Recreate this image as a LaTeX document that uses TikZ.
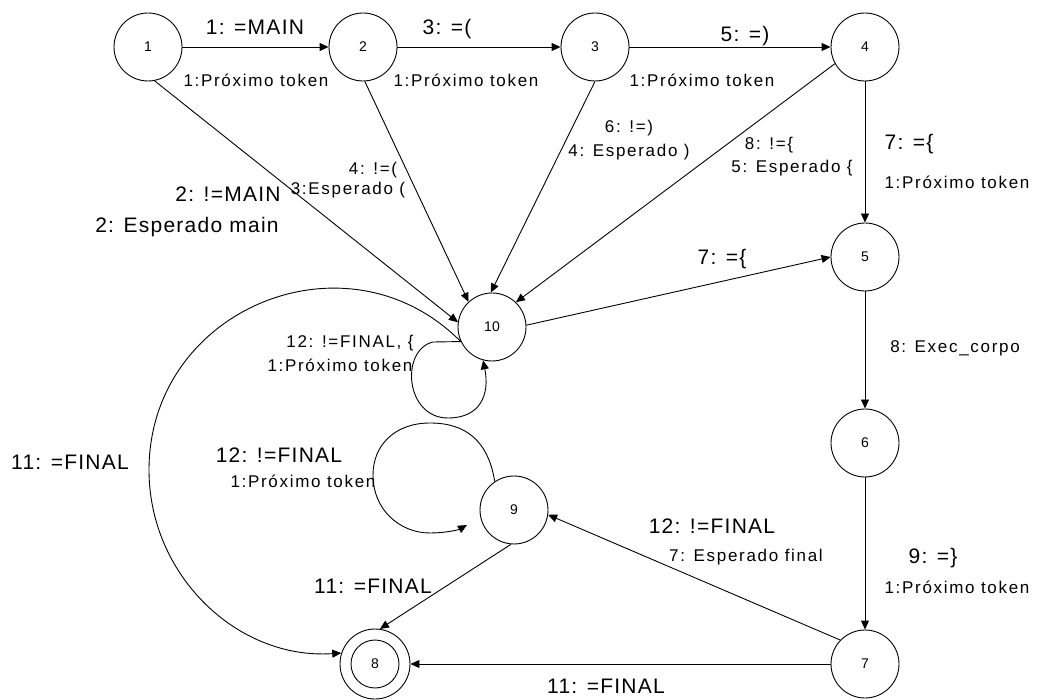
\documentclass[tikz,border=0pt]{standalone}
\usepackage{fontspec}
\setmainfont{Liberation Sans}
\newfontfamily\lblfont[LetterSpace=6]{Liberation Sans}
\newfontfamily\tokfont[LetterSpace=10]{Liberation Sans}
\usetikzlibrary{arrows.meta}

\begin{document}
\begin{tikzpicture}[x=1pt,y=-1pt,
  st/.style={circle,draw,line width=0.9pt,minimum size=68pt,inner sep=0pt,
             font=\fontsize{14}{16}\selectfont},
  big/.style={inner sep=0pt,anchor=base,font=\lblfont\fontsize{21}{24}\selectfont},
  sml/.style={inner sep=0pt,anchor=base,font=\tokfont\fontsize{17}{20}\selectfont},
  tr/.style={line width=0.9pt,-{Triangle[length=9pt,width=8pt]}},
]
\useasboundingbox (0,0) rectangle (1039,700);

% states
\node[st] (n1) at (148,47) {1};
\node[st] (n2) at (363,47) {2};
\node[st] (n3) at (595,47) {3};
\node[st] (n4) at (865,47) {4};
\node[st] (n5) at (865,257) {5};
\node[st] (n6) at (865,443) {6};
\node[st] (n7) at (865,664) {7};
\node[st,minimum size=70pt] (n8) at (375,664) {8};
\draw[line width=0.9pt] (n8.center) circle[radius=24pt];
\node[st] (n9) at (514,510) {9};
\node[st] (n10) at (492,327) {10};

% main chain
\draw[tr] (n1) -- (n2);
\draw[tr] (n2) -- (n3);
\draw[tr] (n3) -- (n4);
\draw[tr] (n4) -- (n5);
\draw[tr] (n5) -- (n6);
\draw[tr] (n6) -- (n7);
\draw[tr] (n7) -- (n8);

% error transitions into state 10
\draw[tr] (n1.-79) -- (n10.172);
\draw[tr] (n2.-87) -- (n10.133);
\draw[tr] (n3.-90) -- (n10.92);
\draw[tr] (n4.209) -- (n10.46);
\draw[tr] (n10.3) -- (n5.180);

\draw[tr] (n7.136) -- (n9.-8);
\draw[tr] (n9.-95) -- (n8.82);

% long arc from 10 to the final state
\coordinate (c11) at (149,470);
\draw[tr] (n10.205) .. controls (347,227) and (149,309) .. (c11)
          .. controls (149,575) and (237,660) .. (n8.162);

% self loop on 10
\coordinate (l10) at (433,342);
\draw[tr] (n10.205) -- (l10) .. controls (400,350) and (405,418) .. (448,418)
          .. controls (480,418) and (490,395) .. (n10.-105);

% self loop on 9
\coordinate (l9end) at (467,525);
\draw[tr] (n9.124) .. controls (488,440) and (465,423) .. (430,423)
          .. controls (395,423) and (373,445) .. (373,475)
          .. controls (373,510) and (400,533) .. (430,533)
          .. controls (445,533) and (458,530) .. (l9end);

% labels
\node[big] (t1) at (255,35) {1: =MAIN};
\node[sml] (t2) at (256,87) {1:Próximo token};
\node[big] (t3) at (447,35) {3: =(};
\node[sml] (t4) at (466,87) {1:Próximo token};
\node[big] (t5) at (745,42) {5: =)};
\node[sml] (t6) at (702,87) {1:Próximo token};
\node[big] (t7) at (909,150) {7: =\{};
\node[sml] (t8) at (957,189) {1:Próximo token};
\node[big] (t9) at (722,265) {7: =\{};
\node[sml] (t10) at (955,353) {8: Exec\_corpo};
\node[big] (t11) at (933,563) {9: =\}};
\node[sml] (t12) at (957,593) {1:Próximo token};
\node[big] (t13) at (606,693) {11: =FINAL};
\node[big] (t14) at (712,533) {12: !=FINAL};
\node[sml] (t15) at (746,561) {7: Esperado final};
\node[big] (t16) at (373,593) {11: =FINAL};
\node[big] (t17) at (70,469) {11: =FINAL};
\node[big] (t18) at (279,462) {12: !=FINAL};
\node[sml] (t19) at (303,487) {1:Próximo token};
\node[sml] (t20) at (350,348) {12: !=FINAL, \{};
\node[sml] (t21) at (340,372) {1:Próximo token};
\node[big] (t22) at (228,202) {2: !=MAIN};
\node[big] (t23) at (187,233) {2: Esperado main};
\node[sml] (t24) at (373,175) {4: !=(};
\node[sml] (t25) at (348,195) {3:Esperado (};
\node[sml] (t26) at (629,133) {6: !=)};
\node[sml] (t27) at (629,157) {4: Esperado )};
\node[sml] (t28) at (769,150) {8: !=\{};
\node[sml] (t29) at (792,173) {5: Esperado \{};
\end{tikzpicture}
\end{document}
